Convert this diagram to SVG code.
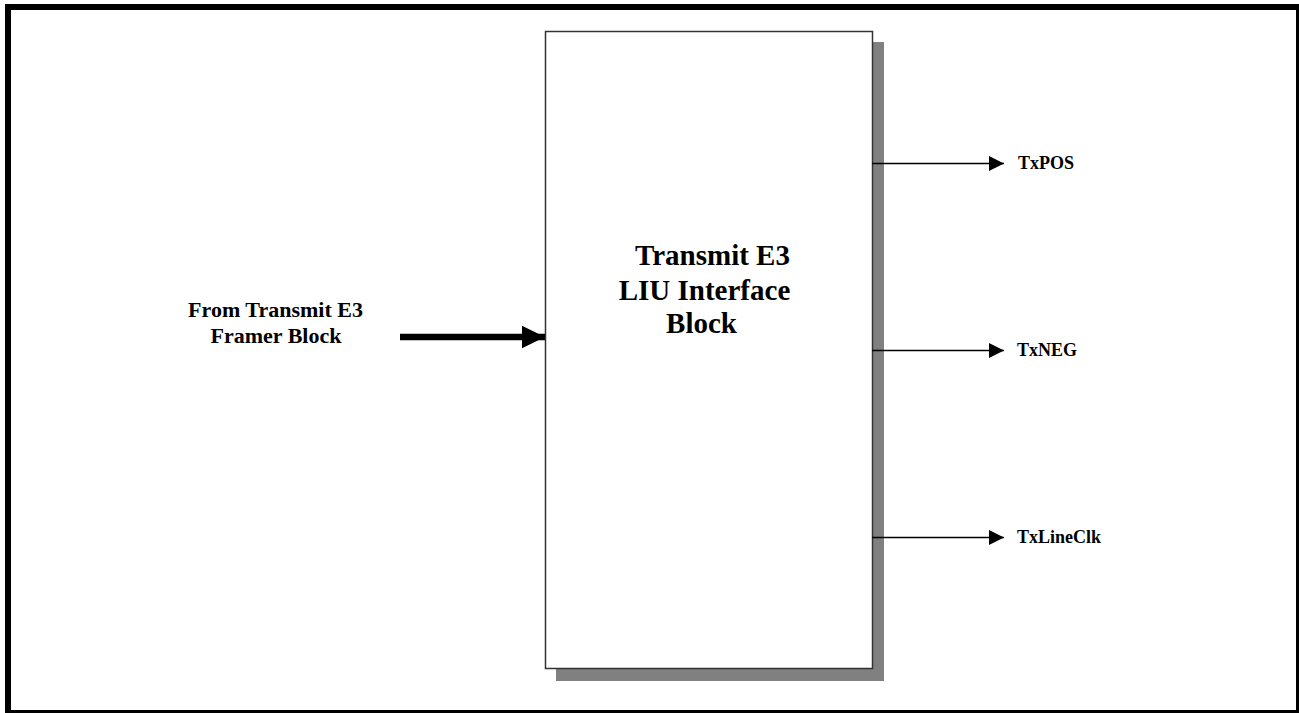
<svg xmlns="http://www.w3.org/2000/svg" width="1299" height="713" viewBox="0 0 1299 713">
<style>
.t{font-family:"Liberation Serif","Times New Roman",serif;font-weight:bold;fill:#000}
.big{font-size:29px}
.mid{font-size:22px}
.sm{font-size:18px}
.thin{stroke:#000;stroke-width:1.4;fill:none}
</style>
<defs>
<marker id="ah" markerUnits="userSpaceOnUse" markerWidth="16" markerHeight="16" viewBox="0 0 16 16" refX="15" refY="8" orient="auto">
<path d="M0,0.5 L15,8 L0,15.5 Z" fill="#000"/>
</marker>
<marker id="ahb" markerUnits="userSpaceOnUse" markerWidth="24" markerHeight="24" viewBox="0 0 24 24" refX="23.5" refY="12" orient="auto">
<path d="M0,0.5 L23.5,12 L0,23.5 Z" fill="#000"/>
</marker>
</defs>
<rect x="0" y="0" width="1299" height="713" fill="#fff"/>
<rect x="8" y="7" width="1291" height="706" fill="none" stroke="#000" stroke-width="6"/>
<g id="block">
<rect x="556" y="42" width="328" height="639" fill="#808080"/>
<rect x="545.5" y="31.5" width="327" height="637" fill="#fff" stroke="#333" stroke-width="1.5"/>
<text class="t big" x="712.5" y="265" text-anchor="middle">Transmit E3</text>
<text class="t big" x="704.5" y="300" text-anchor="middle">LIU Interface</text>
<text class="t big" x="701.5" y="333" text-anchor="middle">Block</text>
</g>
<g id="src">
<text class="t mid" x="275.5" y="316.5" text-anchor="middle">From Transmit E3</text>
<text class="t mid" x="276" y="343" text-anchor="middle">Framer Block</text>
</g>
<g id="txpos"><text class="t sm" x="1018" y="169">TxPOS</text></g>
<g id="txneg"><text class="t sm" x="1017" y="356">TxNEG</text></g>
<g id="txlineclk"><text class="t sm" x="1017" y="543">TxLineClk</text></g>
<g id="connectors">
<line x1="400" y1="337" x2="545" y2="337" stroke="#000" stroke-width="6.5" marker-end="url(#ahb)"/>
<line class="thin" x1="872" y1="163.5" x2="1004" y2="163.5" marker-end="url(#ah)"/>
<line class="thin" x1="872" y1="350.5" x2="1004" y2="350.5" marker-end="url(#ah)"/>
<line class="thin" x1="872" y1="537.5" x2="1004" y2="537.5" marker-end="url(#ah)"/>
</g>
</svg>
